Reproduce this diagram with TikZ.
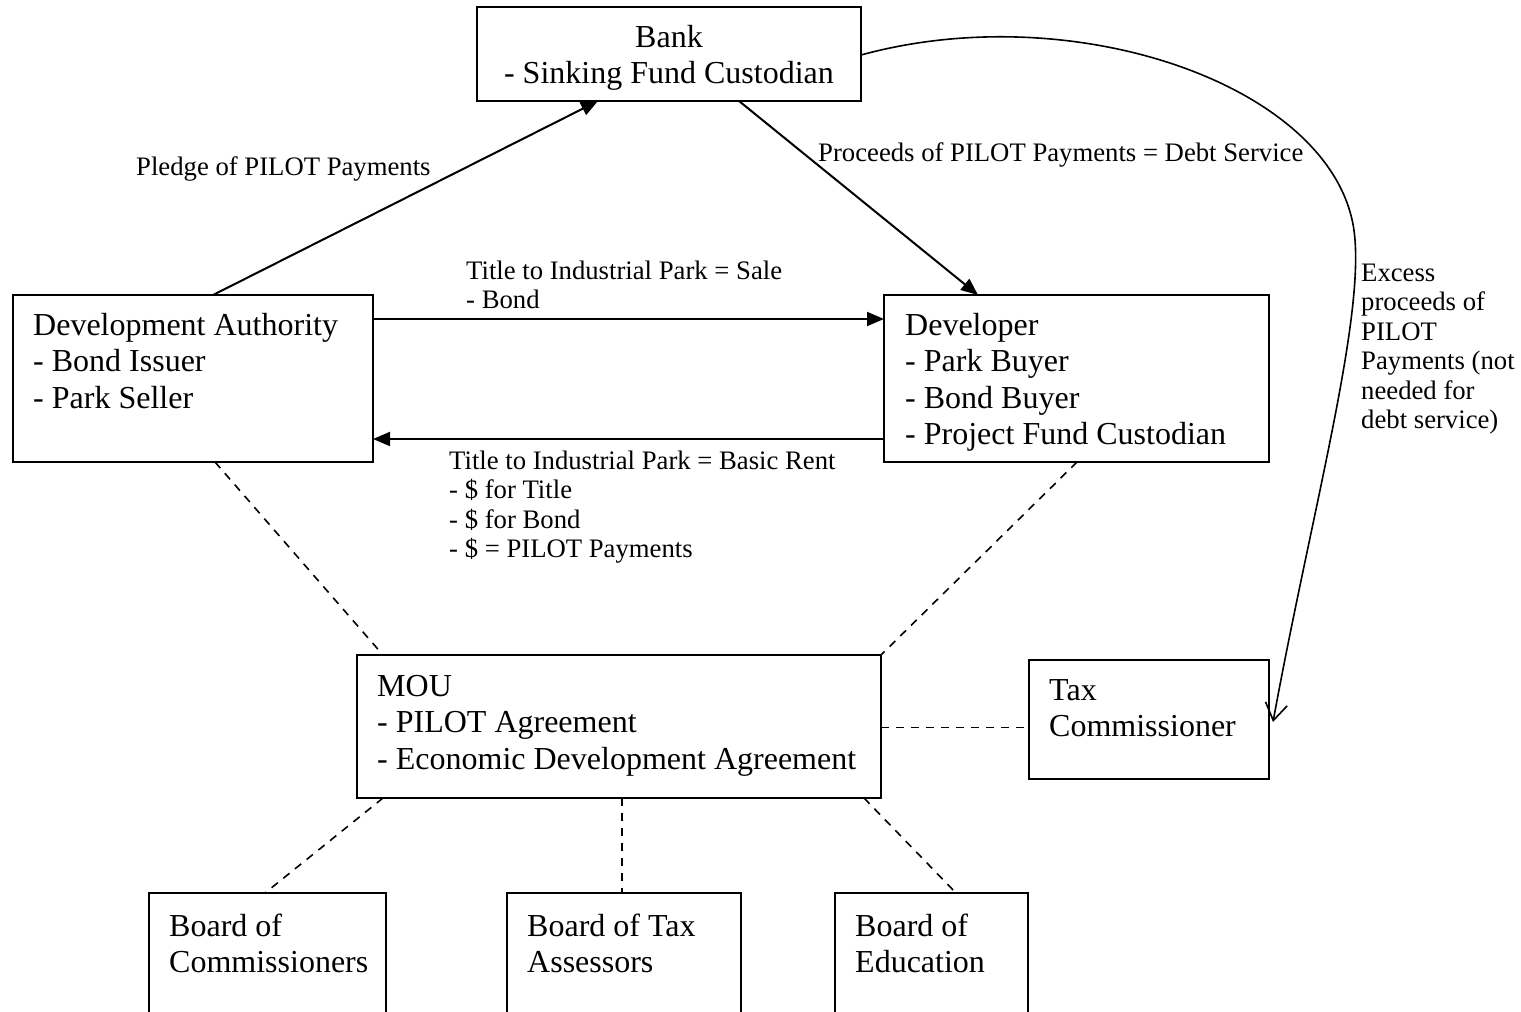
\documentclass[tikz,border=0pt]{standalone}
\usepackage{fontspec}
\setmainfont{Liberation Serif}
\usetikzlibrary{arrows.meta}
\begin{document}
\begin{tikzpicture}[x=1pt,y=-1pt,
  box/.style={draw, line width=2pt, inner sep=0pt, outer sep=0pt, anchor=north west},
  bigtxt/.style={font=\fontsize{32}{36.5}\selectfont, align=left, anchor=north west, inner sep=0pt},
  smalltxt/.style={font=\fontsize{26.7}{29.5}\selectfont, align=left, anchor=north west, inner sep=0pt},
  flow/.style={line width=2pt, -{Triangle[length=17pt,width=14pt]}},
  link/.style={line width=1.6pt, dash pattern=on 8pt off 7pt},
]
\clip (0,0) rectangle (1521,1012);
\fill[white] (0,0) rectangle (1521,1012);

% boxes
\node[box, minimum width=384, minimum height=94] (bank) at (477,7) {};
\node[box, minimum width=360, minimum height=167] (da) at (13,295) {};
\node[box, minimum width=385, minimum height=167] (dev) at (884,295) {};
\node[box, minimum width=524, minimum height=143] (mou) at (357,655) {};
\node[box, minimum width=240, minimum height=119] (tax) at (1029,660) {};
\node[box, minimum width=237, minimum height=140] (bc) at (149,893) {};
\node[box, minimum width=234, minimum height=140] (bt) at (507,893) {};
\node[box, minimum width=193, minimum height=140] (be) at (835,893) {};

% box texts
\node[bigtxt, align=center, anchor=north] (bankT) at (669,21.5) {\strut Bank\\- Sinking Fund Custodian};
\node[bigtxt] (daT) at (33,309.5) {\strut Development Authority\\- Bond Issuer\\- Park Seller};
\node[bigtxt] (devT) at (905,309.5) {\strut Developer\\- Park Buyer\\- Bond Buyer\\- Project Fund Custodian};
\node[bigtxt] (mouT) at (377,670.5) {\strut MOU\\- PILOT Agreement\\- Economic Development Agreement};
\node[bigtxt] (taxT) at (1049,674.5) {\strut Tax\\Commissioner};
\node[bigtxt] (bcT) at (169,910.5) {\strut Board of\\Commissioners};
\node[bigtxt] (btT) at (527,910.5) {\strut Board of Tax\\Assessors};
\node[bigtxt] (beT) at (855,910.5) {\strut Board of\\Education};

% labels
\node[smalltxt] (lPledge) at (136,154.4) {\strut Pledge of PILOT Payments};
\node[smalltxt] (lProc) at (818,140.4) {\strut Proceeds of PILOT Payments = Debt Service};
\node[smalltxt] (lSale) at (466,258.4) {\strut Title to Industrial Park = Sale\\- Bond};
\node[smalltxt] (lRent) at (449,448.4) {\strut Title to Industrial Park = Basic Rent\\- \$ for Title\\- \$ for Bond\\- \$ = PILOT Payments};
\node[smalltxt] (lExcess) at (1361,260.4) {\strut Excess\\proceeds of\\PILOT\\Payments (not\\needed for\\debt service)};

% flows
\draw[flow] ([xshift=200]da.north west) -- ([xshift=121]bank.south west);
\draw[flow] ([xshift=262]bank.south west) -- ([xshift=94]dev.north west);
\draw[flow] ([yshift=-24]da.north east) -- ([yshift=-24]dev.north west);
\draw[flow] ([yshift=-144]dev.north west) -- ([yshift=-144]da.north east);

% excess curve
\draw[line width=1.6pt, -{Straight Barb[length=17pt,width=22pt]}]
  ([yshift=-48]bank.north east) .. controls (1080,-5) and (1345,90) .. (1355,240)
  .. controls (1362,330) and (1310,520) .. ([xshift=4,yshift=-62]tax.north east);

% dashed links
\draw[link] ([xshift=202]da.south west) -- ([xshift=26]mou.north west);
\draw[link] ([xshift=193]dev.south west) -- (mou.north east);
\draw[link] ([yshift=-1]mou.east) -- ([yshift=-1]mou.east -| tax.west);
\draw[link] ([xshift=26]mou.south west) -- ([xshift=116]bc.north west);
\draw[link] ([xshift=115]bt.north west |- mou.south) -- ([xshift=115]bt.north west);
\draw[link] ([xshift=-17]mou.south east) -- ([xshift=121]be.north west);
\end{tikzpicture}
\end{document}
